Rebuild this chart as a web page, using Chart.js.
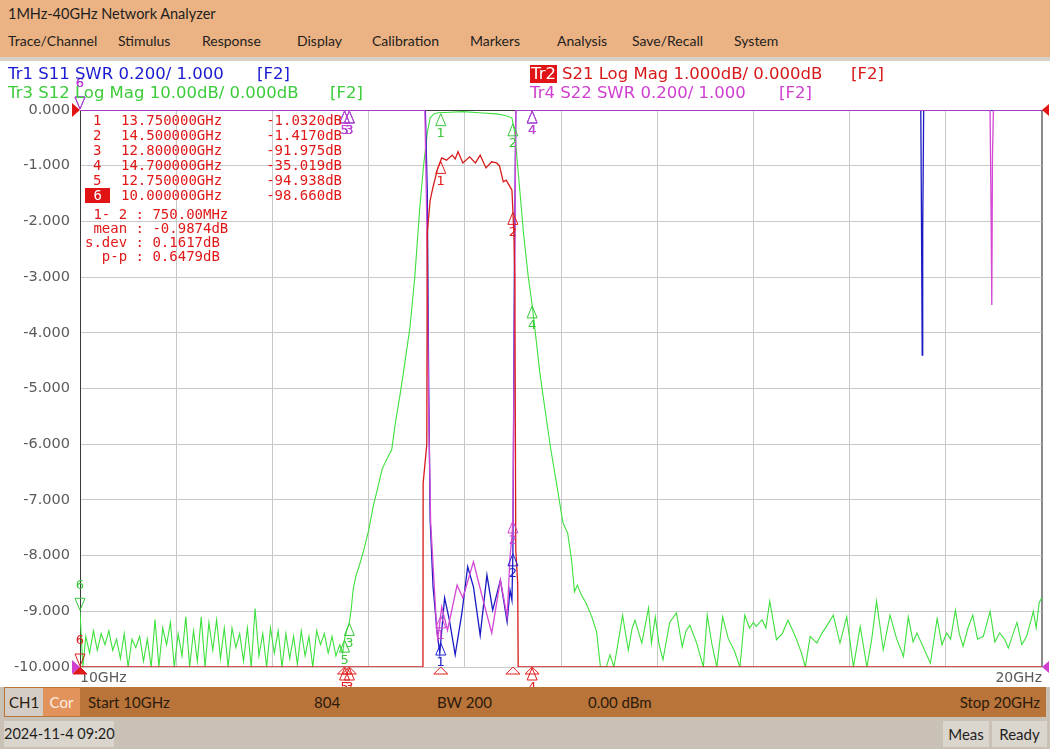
<!DOCTYPE html>
<html>
<head>
<meta charset="utf-8">
<title>Network Analyzer</title>
<script src="https://cdn.jsdelivr.net/npm/chart.js@4.4.1/dist/chart.umd.min.js"></script>
<style>
  body { margin: 0; width: 1050px; height: 749px; overflow: hidden; position: relative; background: #c9c1b5; font-family: Lato, sans-serif; }
  .abs { position: absolute; white-space: pre; line-height: 18px; height: 18px; }
  #topbar { position: absolute; left: 0; top: 0; width: 1050px; height: 57px; background: #ebb283; }
  #gap { position: absolute; left: 0; top: 57px; width: 1050px; height: 4px; background: #d6d0c8; }
  #plot { position: absolute; left: 0; top: 61px; width: 1050px; height: 626px; background: #fff; }
  #status { position: absolute; left: 4px; top: 687px; width: 1042px; height: 30px; background: #b9743a; }
  .menu { font-size: 14px; color: #1e1e1e; }
  .hdr { font-family: "DejaVu Sans", sans-serif; font-size: 16.5px; }
  .mk { font-family: "DejaVu Sans Mono", monospace; font-size: 14px; color: #e01818; line-height: 15px; height: 15px; }
  .st { font-size: 15px; color: #2b1a0c; }
  .box { position: absolute; white-space: nowrap; background: #dad5cd; font-size: 15px; color: #1e1e1e; line-height: 26px; text-align: center; }
</style>
</head>
<body>
<div id="topbar"></div>
<div id="gap"></div>
<div id="plot"><canvas id="vna" width="1050" height="626"></canvas></div>

<div class="abs menu" style="left:8px;top:5px;font-size:14.5px">1MHz-40GHz Network Analyzer</div>
<div class="abs menu" style="left:8px;top:32px">Trace/Channel</div>
<div class="abs menu" style="left:118px;top:32px">Stimulus</div>
<div class="abs menu" style="left:202px;top:32px">Response</div>
<div class="abs menu" style="left:297px;top:32px">Display</div>
<div class="abs menu" style="left:372px;top:32px">Calibration</div>
<div class="abs menu" style="left:470px;top:32px">Markers</div>
<div class="abs menu" style="left:557px;top:32px">Analysis</div>
<div class="abs menu" style="left:632px;top:32px">Save/Recall</div>
<div class="abs menu" style="left:734px;top:32px">System</div>

<div class="abs hdr" style="left:8px;top:65px;color:#1a1ad0">Tr1 S11 SWR 0.200/ 1.000</div>
<div class="abs hdr" style="left:257px;top:65px;color:#1a1ad0">[F2]</div>
<div class="abs hdr" style="left:8px;top:84px;color:#3ccc3c">Tr3 S12 Log Mag 10.00dB/ 0.000dB</div>
<div class="abs hdr" style="left:330px;top:84px;color:#3ccc3c">[F2]</div>
<div class="abs hdr" style="left:530px;top:65px;color:#fff;background:#e01414;padding:0 1px">Tr2</div>
<div class="abs hdr" style="left:562px;top:65px;color:#d81818">S21 Log Mag 1.000dB/ 0.000dB</div>
<div class="abs hdr" style="left:851px;top:65px;color:#d81818">[F2]</div>
<div class="abs hdr" style="left:530px;top:84px;color:#d040d0">Tr4 S22 SWR 0.200/ 1.000</div>
<div class="abs hdr" style="left:779px;top:84px;color:#d040d0">[F2]</div>

<div id="mtable"></div>

<div id="status"></div>
<div class="abs st" style="left:5px;top:688px;width:38px;height:28px;line-height:28px;background:#d3cdc6;text-align:center">CH1</div>
<div class="abs st" style="left:43px;top:688px;width:37px;height:28px;line-height:28px;background:#e2935c;color:#fbeee4;text-align:center">Cor</div>
<div class="abs st" style="left:88px;top:693px">Start 10GHz</div>
<div class="abs st" style="left:314px;top:693px">804</div>
<div class="abs st" style="left:437px;top:693px">BW 200</div>
<div class="abs st" style="left:588px;top:693px">0.00 dBm</div>
<div class="abs st" style="left:938px;top:693px;width:102px;text-align:right">Stop 20GHz</div>

<div class="box" style="left:4px;top:721px;width:110px;height:26px;font-size:14.5px">2024-11-4 09:20</div>
<div class="box" style="left:943px;top:721px;width:46px;height:26px">Meas</div>
<div class="box" style="left:992px;top:721px;width:55px;height:26px">Ready</div>

<script>
// frequency axis 10 - 20 GHz, y axis in S21 dB (1 dB/div); other traces given in graticule divisions
const yTickLabels = ['0.000', '-1.000', '-2.000', '-3.000', '-4.000', '-5.000', '-6.000', '-7.000', '-8.000', '-9.000', '-10.000'];

// Tr2 S21 Log Mag (dB, clipped at -10 on screen)
const s21Ghz = [10, 13.565, 13.567, 13.605, 13.61, 13.64, 13.67, 13.72, 13.76, 13.81, 13.87, 13.9, 13.93, 13.98, 14.05, 14.11, 14.16, 14.22, 14.28, 14.33, 14.36, 14.4, 14.43, 14.46, 14.49, 14.51, 14.52, 14.53, 14.55, 14.555, 20];
const s21Db  = [-10, -10, -6.7, -6.0, -2.2, -1.62, -1.38, -1.04, -0.86, -0.9, -0.81, -0.88, -0.75, -0.95, -0.84, -0.95, -0.81, -1.04, -0.93, -0.95, -1.0, -1.29, -1.26, -1.35, -1.44, -2.2, -3.0, -7.9, -8.5, -10, -10];

// Tr1 S11 SWR (divisions)
const s11Ghz = [10, 13.59, 13.61, 13.625, 13.64, 13.67, 13.71, 13.74, 13.79, 13.84, 13.9, 13.97, 14.03, 14.09, 14.16, 14.23, 14.29, 14.37, 14.44, 14.47, 14.49, 14.5, 14.515, 14.53, 18.74, 18.745, 18.755, 18.76, 18.77, 20];
const s11Div = [0, 0, -1.5, -5.0, -7.36, -8.56, -9.34, -9.75, -8.76, -9.16, -9.78, -9.03, -8.2, -8.56, -9.43, -8.35, -8.98, -8.44, -9.19, -8.62, -8.8, -7.95, -3.0, 0, 0, -1.3, -4.4, -2.2, 0, 0];

// Tr4 S22 SWR (divisions)
const s22Ghz = [10, 13.585, 13.605, 13.625, 13.645, 13.71, 13.72, 13.76, 13.82, 13.92, 13.98, 14.09, 14.19, 14.28, 14.37, 14.44, 14.47, 14.49, 14.5, 14.515, 14.53, 19.46, 19.47, 19.478, 19.485, 19.495, 20];
const s22Div = [0, 0, -2.0, -5.5, -7.4, -9.39, -9.5, -8.92, -9.34, -8.53, -8.76, -8.11, -8.8, -9.39, -8.44, -9.1, -8.02, -7.66, -7.36, -4.0, 0, 0, -1.7, -3.5, -0.85, 0, 0];

// Tr3 S12 Log Mag (divisions, 10 dB/div)
const s12Ghz = [10, 10.03, 10.06, 10.1, 10.14, 10.18, 10.22, 10.26, 10.3, 10.34, 10.38, 10.42, 10.46, 10.5, 10.54, 10.58, 10.62, 10.66, 10.7, 10.74, 10.78, 10.82, 10.86, 10.9, 10.94, 10.98,
  11.02, 11.06, 11.1, 11.14, 11.18, 11.22, 11.26, 11.3, 11.34, 11.38, 11.42, 11.46, 11.5, 11.54, 11.58, 11.62, 11.66, 11.7, 11.74, 11.78, 11.82, 11.86, 11.9, 11.94, 11.98,
  12.02, 12.06, 12.1, 12.14, 12.18, 12.22, 12.26, 12.3, 12.34, 12.38, 12.42, 12.46, 12.5, 12.54, 12.58, 12.62, 12.66, 12.7, 12.73, 12.75, 12.78, 12.8, 12.82, 12.84, 12.87, 12.9, 12.95,
  13.0, 13.05, 13.1, 13.14, 13.17, 13.21, 13.24, 13.28, 13.33, 13.38, 13.43, 13.48, 13.53, 13.57, 13.61, 13.64, 13.68, 13.72, 13.85, 13.98, 14.15, 14.33, 14.42, 14.49, 14.52, 14.55, 14.58,
  14.61, 14.66, 14.7, 14.74, 14.78, 14.85, 14.89, 14.96, 15.02, 15.07, 15.11, 15.14, 15.17, 15.21, 15.26, 15.32, 15.37, 15.41, 15.47, 15.51, 15.55, 15.6, 15.64, 15.7, 15.74, 15.77,
  15.84, 15.91, 15.94, 15.98, 16.02, 16.06, 16.13, 16.2, 16.26, 16.3, 16.34, 16.41, 16.48, 16.52, 16.57, 16.62, 16.68, 16.74, 16.8, 16.86, 16.91, 16.96, 17.0, 17.03, 17.09, 17.13,
  17.17, 17.24, 17.3, 17.36, 17.41, 17.45, 17.5, 17.54, 17.59, 17.66, 17.71, 17.76, 17.83, 17.9, 17.97, 18.04, 18.11, 18.18, 18.23, 18.28, 18.35, 18.42, 18.49, 18.56, 18.61, 18.66,
  18.7, 18.78, 18.84, 18.91, 18.96, 19.01, 19.05, 19.1, 19.14, 19.18, 19.23, 19.28, 19.33, 19.39, 19.46, 19.51, 19.56, 19.61, 19.65, 19.7, 19.74, 19.79, 19.84, 19.88, 19.91, 19.94, 19.97, 20.0];
const s12Div = [-9.0, -10.0, -9.45, -9.75, -9.35, -9.7, -9.4, -9.6, -9.35, -9.7, -9.5, -9.85, -9.4, -10.0, -9.5, -9.65, -9.45, -9.9, -9.5, -10.0, -9.15, -10.0, -9.3, -9.6, -9.2, -10.0,
  -9.4, -9.8, -9.1, -10.0, -9.35, -9.9, -9.1, -10.0, -9.2, -9.7, -9.15, -9.85, -9.3, -10.0, -9.3, -9.65, -9.4, -9.9, -9.3, -10.0, -8.95, -9.8, -9.4, -10.0, -9.3,
  -9.75, -9.35, -10.0, -9.4, -9.85, -9.45, -9.95, -9.35, -9.8, -9.45, -10.0, -9.35, -9.6, -9.4, -9.75, -9.45, -9.8, -9.6, -9.75, -9.5, -9.3, -9.2, -8.95, -8.6, -8.35, -8.2, -7.9,
  -7.55, -7.1, -6.75, -6.45, -6.34, -6.2, -6.1, -5.6, -5.08, -4.5, -3.9, -3.0, -1.8, -1.02, -0.41, -0.14, -0.07, -0.05, -0.04, -0.03, -0.05, -0.07, -0.1, -0.14, -0.41, -1.02, -1.6,
  -2.21, -3.0, -3.5, -4.1, -4.72, -5.57, -6.05, -6.77, -7.41, -7.6, -8.08, -8.65, -8.53, -8.7, -8.85, -9.1, -9.37, -10.0, -10.0, -9.78, -10.0, -9.5, -9.07, -9.7, -9.3, -9.16,
  -9.57, -8.94, -9.57, -9.1, -9.6, -9.87, -9.2, -9.03, -9.64, -9.35, -9.25, -9.57, -10.0, -9.07, -9.6, -10.0, -9.1, -9.5, -9.7, -10.0, -9.07, -9.3, -9.2, -9.27, -9.15, -9.3,
  -8.82, -9.51, -9.4, -9.16, -9.35, -9.51, -9.75, -10.0, -9.45, -9.57, -9.4, -9.27, -9.07, -9.57, -9.1, -10.0, -9.27, -10.0, -9.5, -8.82, -9.69, -9.07, -9.5, -9.81, -9.1, -9.55,
  -9.39, -9.7, -9.93, -9.13, -9.6, -9.39, -9.5, -8.98, -9.4, -9.63, -9.3, -9.07, -9.5, -9.45, -9.0, -9.55, -9.39, -9.5, -9.66, -9.4, -9.2, -9.6, -9.45, -9.2, -9.0, -9.3, -8.85, -8.75];

// markers 1..6
const markerGhz = [13.75, 14.5, 12.8, 14.7, 12.75, 10.0];
const markerText = ['13.750000GHz', '14.500000GHz', '12.800000GHz', '14.700000GHz', '12.750000GHz', '10.000000GHz'];
const markerVal = ['-1.0320dB', '-1.4170dB', '-91.975dB', '-35.019dB', '-94.938dB', '-98.660dB'];
const statLines = [' 1- 2 : 750.00MHz', ' mean : -0.9874dB', 's.dev : 0.1617dB', '  p-p : 0.6479dB'];

// marker readout table
const tbl = document.getElementById('mtable');
markerGhz.forEach(function (g, i) {
    const top = 113 + i * 15;
    const num = document.createElement('div');
    num.className = 'abs mk';
    num.style.left = (i === 5 ? 85 : 93) + 'px';
    num.style.top = top + 'px';
    num.textContent = i === 5 ? ' 6 ' : String(i + 1);
    if (i === 5) { num.style.background = '#e01414'; num.style.color = '#fff'; }
    tbl.appendChild(num);
    const f = document.createElement('div');
    f.className = 'abs mk';
    f.style.left = '121px';
    f.style.top = top + 'px';
    f.textContent = markerText[i];
    tbl.appendChild(f);
    const v = document.createElement('div');
    v.className = 'abs mk';
    v.style.left = '241px';
    v.style.width = '101px';
    v.style.textAlign = 'right';
    v.style.top = top + 'px';
    v.textContent = markerVal[i];
    tbl.appendChild(v);
});
statLines.forEach(function (s, i) {
    const d = document.createElement('div');
    d.className = 'abs mk';
    d.style.left = '85px';
    d.style.top = (207 + i * 14) + 'px';
    d.textContent = s;
    tbl.appendChild(d);
});

function pts(xs, ys) {
    return xs.map(function (x, i) { return { x: x, y: ys[i] }; });
}

function valueAt(xs, ys, g) {
    for (let i = 1; i < xs.length; i++) {
        if (g <= xs[i]) {
            const t = (g - xs[i - 1]) / (xs[i] - xs[i - 1] || 1);
            return ys[i - 1] + t * (ys[i] - ys[i - 1]);
        }
    }
    return ys[ys.length - 1];
}

const traces = [
    { xs: s11Ghz, ys: s11Div, color: '#2020d0' },
    { xs: s12Ghz, ys: s12Div, color: '#38c838' },
    { xs: s21Ghz, ys: s21Db, color: '#e01c1c' },
    { xs: s22Ghz, ys: s22Div, color: '#d040d0' }
];

function tri(ctx, px, tip, base, half, color, fill) {
    ctx.beginPath();
    ctx.moveTo(px, tip);
    ctx.lineTo(px - half, base);
    ctx.lineTo(px + half, base);
    ctx.closePath();
    if (fill) { ctx.fillStyle = color; ctx.fill(); }
    ctx.strokeStyle = color;
    ctx.stroke();
}

const markerPlugin = {
    id: 'markers',
    afterDatasetsDraw: function (chart) {
        const ctx = chart.ctx;
        const x = chart.scales.x;
        const y = chart.scales.y;
        ctx.save();
        ctx.lineWidth = 1;
        ctx.font = '13px "DejaVu Sans"';
        ctx.textAlign = 'center';
        ctx.textBaseline = 'middle';

        // stimulus indicators under the graticule (active trace)
        const yb = y.getPixelForValue(-10);
        markerGhz.forEach(function (g, i) {
            const px = x.getPixelForValue(g);
            tri(ctx, px, yb, yb + 7, 7, '#e01c1c', i === 5);
        });

        traces.forEach(function (t) {
            markerGhz.forEach(function (g, i) {
                const px = x.getPixelForValue(g);
                const py = y.getPixelForValue(valueAt(t.xs, t.ys, g));
                if (i === 5) {
                    tri(ctx, px, py - 1, py - 13, 5, t.color, false);
                    ctx.fillStyle = t.color;
                    ctx.fillText('6', px, py - 26);
                } else {
                    tri(ctx, px, py + 1, py + 13, 5, t.color, false);
                    ctx.fillStyle = t.color;
                    ctx.fillText(String(i + 1), px, py + 21);
                }
            });
        });

        // reference position arrows
        const l = chart.chartArea.left;
        const r = chart.chartArea.right;
        const y0 = y.getPixelForValue(0);
        ctx.fillStyle = '#e01414';
        ctx.beginPath(); ctx.moveTo(l, y0); ctx.lineTo(l - 8, y0 - 7); ctx.lineTo(l - 8, y0 + 7); ctx.closePath(); ctx.fill();
        ctx.beginPath(); ctx.moveTo(r, y0); ctx.lineTo(r + 7, y0 - 6); ctx.lineTo(r + 7, y0 + 6); ctx.closePath(); ctx.fill();
        ctx.fillStyle = '#d040d0';
        ctx.beginPath(); ctx.moveTo(l, yb); ctx.lineTo(l - 8, yb - 7); ctx.lineTo(l - 8, yb + 7); ctx.closePath(); ctx.fill();
        ctx.beginPath(); ctx.moveTo(r, yb); ctx.lineTo(r + 7, yb - 6); ctx.lineTo(r + 7, yb + 6); ctx.closePath(); ctx.fill();
        ctx.restore();
    }
};

const ctx = document.getElementById('vna').getContext('2d');
const chart = new Chart(ctx, {
    type: 'line',
    data: {
        datasets: [
            { label: 'S21', data: pts(s21Ghz, s21Db), borderColor: '#d81a1a', borderWidth: 1.3 },
            { label: 'S22', data: pts(s22Ghz, s22Div), borderColor: '#d448d4', borderWidth: 1.3 },
            { label: 'S11', data: pts(s11Ghz, s11Div), borderColor: '#1a1ac4', borderWidth: 1.3 },
            { label: 'S12', data: pts(s12Ghz, s12Div), borderColor: '#3ee03e', borderWidth: 1.1 }
        ]
    },
    options: {
        responsive: false,
        animation: false,
        elements: { point: { radius: 0 }, line: { tension: 0 } },
        plugins: { legend: { display: false }, tooltip: { enabled: false } },
        layout: { padding: { top: 49, right: 8, left: 0, bottom: 0 } },
        scales: {
            x: {
                type: 'linear',
                min: 10,
                max: 20,
                ticks: {
                    stepSize: 1,
                    autoSkip: false,
                    maxRotation: 0,
                    align: 'inner',
                    padding: 3,
                    color: '#5a5a5a',
                    font: { family: 'DejaVu Sans', size: 14 },
                    callback: function (v) { return v === 10 ? '10GHz' : (v === 20 ? '20GHz' : ''); }
                },
                grid: {
                    drawTicks: false,
                    color: function (c) { return c.tick && c.tick.value === 20 ? '#8a8a8a' : '#c8c8c8'; },
                    lineWidth: function (c) { return c.tick && c.tick.value === 20 ? 2 : 1; }
                },
                border: { display: false },
                afterFit: function (s) { s.height = 20; }
            },
            y: {
                min: -10,
                max: 0,
                ticks: {
                    stepSize: 1,
                    padding: 10,
                    color: '#5a5a5a',
                    font: { family: 'DejaVu Sans', size: 14.5 },
                    callback: function (v) { return yTickLabels[Math.round(-v)]; }
                },
                grid: {
                    drawTicks: false,
                    color: function (c) { return c.tick && c.tick.value === 0 ? '#3a3a3a' : '#c8c8c8'; }
                },
                border: { color: '#3a3a3a', width: 1 },
                afterFit: function (s) { s.width = 80; }
            }
        }
    },
    plugins: [markerPlugin]
});
</script>
</body>
</html>
